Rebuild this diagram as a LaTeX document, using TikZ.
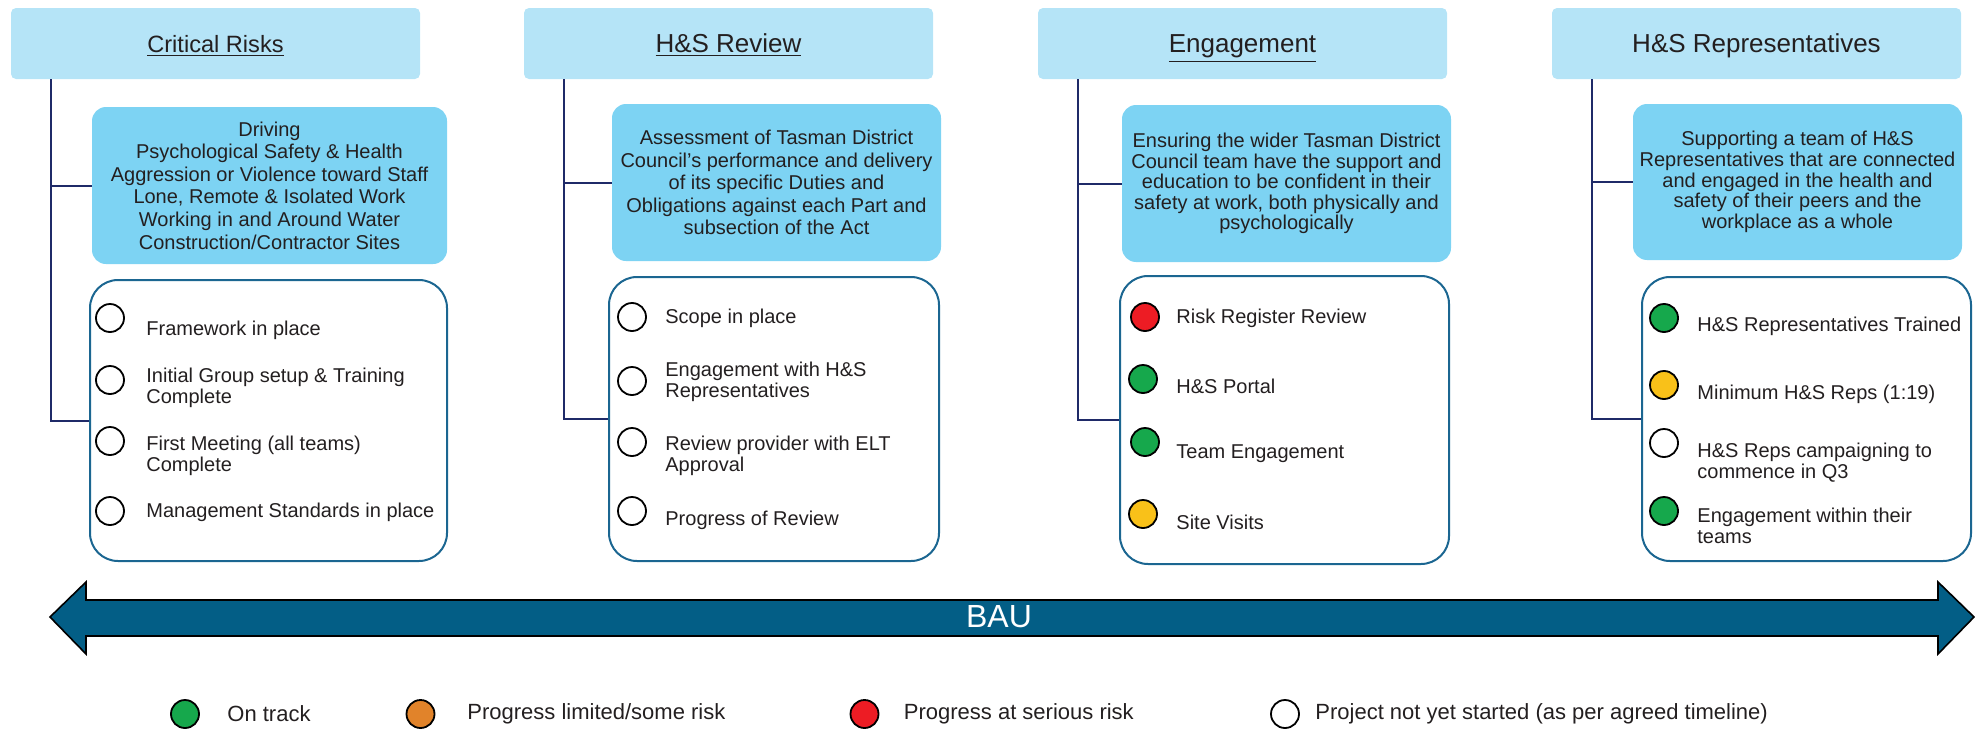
\documentclass[tikz,border=0pt]{standalone}
\usepackage{fontspec}
\setmainfont{Liberation Sans}

\definecolor{kopfblau}{HTML}{B5E4F7}
\definecolor{zielblau}{HTML}{7DD3F3}
\definecolor{listenrand}{HTML}{1B6691}
\definecolor{astblau}{HTML}{1F2A68}
\definecolor{pfeilblau}{HTML}{035E86}
\definecolor{textgrau}{HTML}{231F20}
\definecolor{ampelgruen}{HTML}{16A84C}
\definecolor{ampelgelb}{HTML}{F9C119}
\definecolor{ampelrot}{HTML}{ED1C24}
\definecolor{ampelorange}{HTML}{E1832A}

\tikzset{
	kopf/.style={fill=kopfblau, rounded corners=2.5pt, minimum width=204.5pt, minimum height=35.5pt, inner sep=0pt, text height=9.3pt, text depth=0pt, text=textgrau, font=\fontsize{13}{15}\selectfont},
	ziel/.style={fill=zielblau, rounded corners=7pt, inner sep=0pt, align=center, text=textgrau, font=\fontsize{10}{11.3}\selectfont},
	liste/.style={draw=listenrand, line width=1pt, rounded corners=14pt, inner sep=0pt},
	ast/.style={draw=astblau, line width=1pt},
	ampel/.style={circle, draw=black, line width=0.9pt, minimum size=14pt, inner sep=0pt},
	punkt/.style={anchor=west, align=left, inner sep=0pt, text=textgrau, font=\fontsize{10}{10.5}\selectfont},
	legende/.style={anchor=west, inner sep=0pt, text=textgrau, font=\fontsize{11}{13}\selectfont},
}

\begin{document}
\begin{tikzpicture}[x=0.5pt, y=-0.5pt]
	\useasboundingbox (0,0) rectangle (1975,728);

	%% Spalte 1
\begin{scope}
	\node[kopf, font=\fontsize{11.8}{14}\selectfont] (kopfA) at (215.5,43.5) {\underline{Critical Risks}};
	\node[ziel, minimum width=177.5pt, minimum height=78.5pt] (zielA) at (269.5,185.5) {Driving\\Psychological Safety \& Health\\Aggression or Violence toward Staff\\Lone, Remote \& Isolated Work\\Working in and Around Water\\Construction/Contractor Sites};
	\node[liste, minimum width=178.5pt, minimum height=140.5pt] (listeA) at (268.5,420.5) {};
	\draw[ast] ([xshift=20pt]kopfA.south west) |- (zielA.west);
	\draw[ast] ([xshift=20pt]kopfA.south west) |- (listeA.west);

	\node[ampel, fill=white] (a1) at (110,318) {};
	\node[punkt] (ta1) at (146,330) {Framework in place};
	\node[ampel, fill=white] (a2) at (110,380) {};
	\node[punkt] (ta2) at (146,388) {Initial Group setup \& Training\\Complete};
	\node[ampel, fill=white] (a3) at (110,441) {};
	\node[punkt] (ta3) at (146,456) {First Meeting (all teams)\\Complete};
	\node[ampel, fill=white] (a4) at (110,511) {};
	\node[punkt] (ta4) at (146,512) {Management Standards in place};
\end{scope}

	%% Spalte 2
\begin{scope}
	\node[kopf] (kopfB) at (728.5,43.5) {\underline{H\&S Review}};
	\node[ziel, minimum width=164.5pt, minimum height=78.5pt] (zielB) at (776.5,182.5) {Assessment of Tasman District\\Council's performance and delivery\\of its specific Duties and\\Obligations against each Part and\\subsection of the Act};
	\node[liste, minimum width=165pt, minimum height=142pt] (listeB) at (774,419) {};
	\draw[ast] ([xshift=20pt]kopfB.south west) |- (zielB.west);
	\draw[ast] ([xshift=20pt]kopfB.south west) |- (listeB.west);

	\node[ampel, fill=white] (b1) at (632,317) {};
	\node[punkt] (tb1) at (665,318) {Scope in place};
	\node[ampel, fill=white] (b2) at (632,381) {};
	\node[punkt] (tb2) at (665,382) {Engagement with H\&S\\Representatives};
	\node[ampel, fill=white] (b3) at (632,442) {};
	\node[punkt] (tb3) at (665,456) {Review provider with ELT\\Approval};
	\node[ampel, fill=white] (b4) at (632,511) {};
	\node[punkt] (tb4) at (665,520) {Progress of Review};
\end{scope}

	%% Spalte 3
\begin{scope}
	\node[kopf] (kopfC) at (1242.5,43.5) {\underline{Engagement}};
	\node[ziel, minimum width=164.5pt, minimum height=78.5pt, font=\fontsize{10}{10.3}\selectfont] (zielC) at (1286.5,183.5) {Ensuring the wider Tasman District\\Council team have the support and\\education to be confident in their\\safety at work, both physically and\\psychologically};
	\node[liste, minimum width=164.5pt, minimum height=144pt] (listeC) at (1284.5,420) {};
	\draw[ast] ([xshift=20pt]kopfC.south west) |- (zielC.west);
	\draw[ast] ([xshift=20pt]kopfC.south west) |- (listeC.west);

	\node[ampel, fill=ampelrot] (c1) at (1145,317) {};
	\node[punkt] (tc1) at (1176,318) {Risk Register Review};
	\node[ampel, fill=ampelgruen] (c2) at (1143,379) {};
	\node[punkt] (tc2) at (1176,386) {H\&S Portal};
	\node[ampel, fill=ampelgruen] (c3) at (1145,442) {};
	\node[punkt] (tc3) at (1176,454) {Team Engagement};
	\node[ampel, fill=ampelgelb] (c4) at (1143,514) {};
	\node[punkt] (tc4) at (1176,522) {Site Visits};
\end{scope}

	%% Spalte 4
\begin{scope}
	\node[kopf] (kopfD) at (1756.5,43.5) {H\&S Representatives};
	\node[ziel, minimum width=164.5pt, minimum height=78pt, font=\fontsize{10}{10.3}\selectfont] (zielD) at (1797.5,182) {Supporting a team of H\&S\\Representatives that are connected\\and engaged in the health and\\safety of their peers and the\\workplace as a whole};
	\node[liste, minimum width=164.5pt, minimum height=142pt] (listeD) at (1806.5,419) {};
	\draw[ast] ([xshift=20pt]kopfD.south west) |- (zielD.west);
	\draw[ast] ([xshift=20pt]kopfD.south west) |- (listeD.west);

	\node[ampel, fill=ampelgruen] (d1) at (1664,318) {};
	\node[punkt] (td1) at (1697,326) {H\&S Representatives Trained};
	\node[ampel, fill=ampelgelb] (d2) at (1664,385) {};
	\node[punkt] (td2) at (1697,394) {Minimum H\&S Reps (1:19)};
	\node[ampel, fill=white] (d3) at (1664,443) {};
	\node[punkt] (td3) at (1697,463) {H\&S Reps campaigning to\\commence in Q3};
	\node[ampel, fill=ampelgruen] (d4) at (1664,511) {};
	\node[punkt] (td4) at (1697,526) {Engagement within their\\teams};
\end{scope}
	%%%%%%%%%%%%%%%%

	%% Doppelpfeil
	\draw[fill=pfeilblau, draw=black, line width=0.8pt] (50,617) -- (86,582) -- (86,600) -- (1938,600) -- (1938,582) -- (1974,617) -- (1938,654) -- (1938,636) -- (86,636) -- (86,654) -- cycle;
	\node[text=white, font=\fontsize{16}{19}\selectfont] (bau) at (999,617) {BAU};

	%% Legende
	\node[ampel, fill=ampelgruen] (lg1) at (185,714) {};
	\node[legende] (lt1) at (227,714) {On track};
	\node[ampel, fill=ampelorange] (lg2) at (420.5,714) {};
	\node[legende] (lt2) at (467,714) {Progress limited/some risk};
	\node[ampel, fill=ampelrot] (lg3) at (864.5,714) {};
	\node[legende] (lt3) at (903.5,714) {Progress at serious risk};
	\node[ampel, fill=white] (lg4) at (1285,714) {};
	\node[legende] (lt4) at (1315,714) {Project not yet started (as per agreed timeline)};
\end{tikzpicture}
\end{document}
